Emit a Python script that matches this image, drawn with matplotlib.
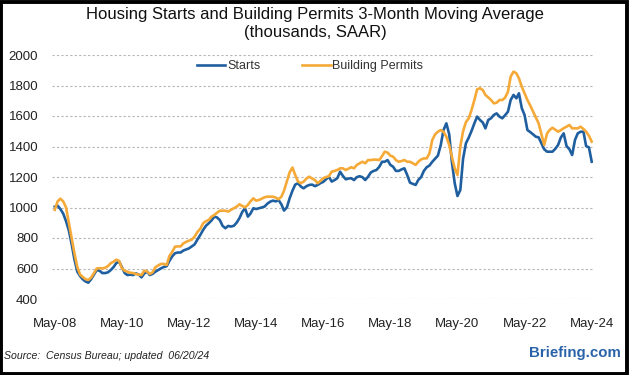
import matplotlib
matplotlib.use("Agg")
import matplotlib.pyplot as plt
import matplotlib.dates as mdates
from matplotlib.patches import Rectangle
import pandas as pd

# monthly 3-month moving averages, May 2008 .. May 2024 (thousands, SAAR)
starts = [1005, 1012, 990, 960, 910, 850, 760, 660, 580, 550, 530, 515, 507, 530, 560, 590,
          585, 570, 570, 575, 590, 610, 635, 645, 610, 570, 557, 560, 557, 568, 560, 542,
          568, 579, 557, 565, 579, 590, 601, 610, 615, 650, 680, 700, 705, 705, 718, 725,
          732, 745, 758, 790, 820, 852, 880, 896, 915, 940, 935, 918, 880, 864, 879, 875,
          880, 900, 930, 970, 995, 940, 960, 995, 990, 995, 1000, 1006, 1025, 1038, 1045, 1040,
          1049, 1020, 980, 1000, 1060, 1110, 1150, 1159, 1137, 1126, 1140, 1148, 1150, 1140, 1148, 1160,
          1168, 1185, 1202, 1170, 1180, 1192, 1235, 1207, 1185, 1190, 1192, 1180, 1199, 1205, 1199, 1180,
          1202, 1230, 1240, 1246, 1267, 1300, 1300, 1311, 1280, 1267, 1240, 1240, 1250, 1257, 1213, 1163,
          1155, 1148, 1180, 1199, 1240, 1264, 1275, 1300, 1320, 1340, 1410, 1508, 1552, 1480, 1300, 1159,
          1075, 1115, 1320, 1421, 1459, 1502, 1552, 1596, 1574, 1557, 1519, 1574, 1585, 1607, 1617, 1596,
          1585, 1605, 1628, 1705, 1738, 1716, 1749, 1651, 1607, 1508, 1495, 1480, 1464, 1460, 1421, 1382,
          1366, 1366, 1366, 1385, 1410, 1460, 1486, 1403, 1382, 1344, 1443, 1486, 1497, 1497, 1403, 1394,
          1300]

permits = [985, 1040, 1058, 1040, 1000, 900, 800, 700, 610, 560, 545, 530, 525, 540, 570, 600,
           602, 601, 605, 616, 635, 645, 658, 650, 603, 585, 579, 572, 570, 564, 560, 557,
           586, 580, 564, 575, 608, 620, 630, 630, 623, 682, 710, 743, 745, 745, 765, 775,
           782, 790, 809, 840, 860, 896, 910, 918, 940, 951, 965, 979, 979, 979, 973, 985,
           995, 1005, 1021, 1010, 1001, 1017, 1040, 1060, 1045, 1049, 1058, 1067, 1071, 1071, 1071, 1065,
           1054, 1071, 1110, 1170, 1230, 1262, 1213, 1170, 1159, 1170, 1190, 1202, 1190, 1180, 1159, 1175,
           1192, 1200, 1205, 1235, 1240, 1246, 1257, 1257, 1246, 1255, 1264, 1257, 1279, 1290, 1300, 1290,
           1311, 1311, 1314, 1314, 1311, 1338, 1366, 1360, 1340, 1333, 1311, 1300, 1305, 1311, 1300, 1300,
           1290, 1279, 1300, 1315, 1322, 1322, 1355, 1443, 1480, 1497, 1508, 1497, 1464, 1410, 1333, 1257,
           1213, 1400, 1500, 1560, 1585, 1639, 1705, 1775, 1782, 1770, 1738, 1722, 1705, 1683, 1687, 1705,
           1705, 1720, 1759, 1858, 1891, 1880, 1847, 1792, 1749, 1705, 1670, 1630, 1590, 1552, 1480, 1410,
           1486, 1510, 1523, 1510, 1497, 1508, 1520, 1530, 1541, 1519, 1519, 1519, 1530, 1515, 1497, 1470,
           1432]

dates = pd.date_range("2008-05-01", periods=len(starts), freq="MS")
tick_dates = pd.date_range("2008-05-01", "2024-05-01", freq="24MS")

blue = "#1f5fa0"
orange = "#f5a937"

fig = plt.figure(figsize=(6.3, 3.75), dpi=100)
ax = fig.add_axes([52 / 630, 1 - 299 / 375, 541 / 630, 244 / 375])

ax.plot(dates, starts, color=blue, lw=1.9, label="Starts")
ax.plot(dates, permits, color=orange, lw=1.9, label="Building Permits")

ax.set_ylim(400, 2000)
ax.set_yticks(range(400, 2001, 200))
ax.set_xlim(pd.Timestamp("2008-04-01"), pd.Timestamp("2024-05-15"))
ax.set_xticks(tick_dates)
ax.xaxis.set_major_formatter(mdates.DateFormatter("%b-%y"))

ax.grid(axis="y", color="#b5b5b5", linestyle=(0, (2, 2)), linewidth=0.8)
ax.set_axisbelow(True)
for s in ax.spines.values():
    s.set_visible(False)
ax.tick_params(length=0, labelsize=9.5, colors="#222222")
ax.tick_params(axis="x", pad=14)
ax.tick_params(axis="y", pad=10)
for lab in ax.get_xticklabels() + ax.get_yticklabels():
    lab.set_family("Liberation Sans")

ax.legend(loc="center", bbox_to_anchor=(0.477, 0.955), ncol=2, frameon=False,
          prop={"family": "Liberation Sans", "size": 9}, handlelength=2.3,
          handletextpad=0.15, columnspacing=3.3, labelcolor="#333333")

fig.text(0.5, 1 - 14 / 375, "Housing Starts and Building Permits 3-Month Moving Average",
         ha="center", va="center", fontsize=12, family="Liberation Sans", color="#111111")
fig.text(0.5, 1 - 33 / 375, "(thousands, SAAR)",
         ha="center", va="center", fontsize=12, family="Liberation Sans", color="#111111")

fig.text(4 / 630, 1 - 356 / 375, "Source:  Census Bureau; updated  06/20/24",
         ha="left", va="center", fontsize=7.6, style="italic", family="Liberation Sans", color="#222222")
fig.text(621 / 630, 1 - 353 / 375, "Briefing.com",
         ha="right", va="center", fontsize=10.8, weight="bold", family="Liberation Sans", color="#2a62a8")

# black frame round the whole picture
fig.patches.append(Rectangle((0.002, 0.004), 0.993, 0.992, transform=fig.transFigure,
                             fill=False, edgecolor="black", linewidth=2.8))

fig.savefig("out.png", dpi=100)
